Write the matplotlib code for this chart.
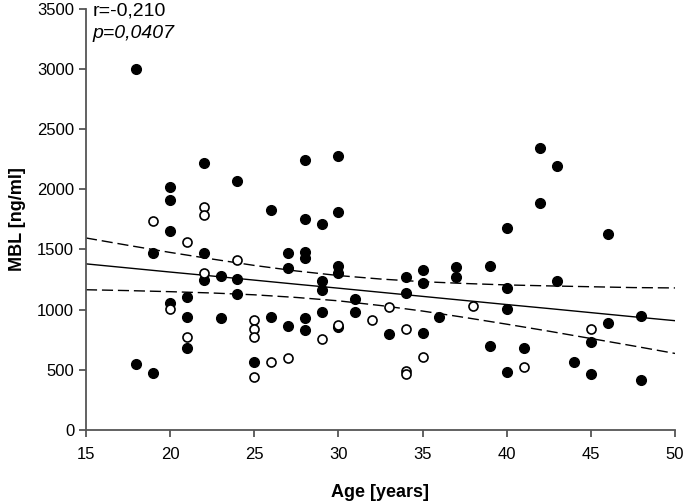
import matplotlib
matplotlib.use("Agg")
import matplotlib.pyplot as plt

plt.rcParams['font.family'] = ['Liberation Sans', 'DejaVu Sans']

# filled circles
age_filled = [18, 18, 19, 19, 20, 20, 20, 20, 21, 21, 21, 22, 22, 22, 23, 23,
              24, 24, 24, 25, 26, 26, 27, 27, 27, 28, 28, 28, 28, 28, 28,
              29, 29, 29, 29, 30, 30, 30, 30, 30, 31, 31, 33, 34, 34, 35, 35, 35,
              36, 37, 37, 39, 39, 40, 40, 40, 40, 41, 42, 42, 43, 43, 44, 45, 45,
              46, 46, 48, 48]
mbl_filled = [3000, 545, 1470, 476, 2020, 1907, 1652, 1054, 1104, 936, 683, 2220, 1470, 1245, 1281, 927,
              2065, 1256, 1127, 565, 1827, 941, 1467, 1348, 861, 2242, 1749, 1480, 1425, 932, 833,
              1708, 1240, 1162, 977, 2272, 1807, 1362, 1301, 858, 1085, 977, 794, 1268, 1140, 1328, 1220, 803,
              938, 1351, 1268, 1364, 700, 1680, 1176, 1005, 482, 683, 2344, 1882, 2192, 1240, 567, 731, 465,
              1630, 888, 949, 415]

# open circles
age_open = [19, 20, 21, 21, 22, 22, 22, 24, 25, 25, 25, 25, 26, 27, 29, 30, 32, 33,
            34, 34, 34, 35, 38, 41, 45]
mbl_open = [1733, 1002, 1558, 772, 1849, 1785, 1306, 1414, 913, 839, 772, 443, 562, 600, 758, 872, 911, 1021,
            839, 490, 462, 606, 1027, 523, 839]

# regression line and confidence band
fit_x = [15, 17.5, 20, 22.5, 25, 27.5, 30, 32.5, 35, 37.5, 40, 42.5, 45, 47.5, 50]
fit_y = [1380, 1346, 1312, 1279, 1245, 1211, 1178, 1144, 1110, 1076, 1042, 1009, 975, 941, 908]
ci_upper = [1595, 1534, 1475, 1420, 1367, 1321, 1283, 1254, 1232, 1217, 1205, 1197, 1190, 1183, 1180]
ci_lower = [1165, 1158, 1149, 1138, 1123, 1101, 1073, 1034, 988, 935, 879, 821, 760, 699, 636]

fig = plt.figure(figsize=(6.85, 5.01), dpi=100)
ax = fig.add_axes([0.1255, 0.1417, 0.8599, 0.8411])

ax.plot(fit_x, fit_y, color='black', lw=1.0, zorder=2)
ax.plot(fit_x, ci_upper, color='black', lw=1.0, dashes=(8, 3.5), zorder=2)
ax.plot(fit_x, ci_lower, color='black', lw=1.0, dashes=(8, 3.5), zorder=2)

ax.plot(age_filled, mbl_filled, 'o', ms=7, mfc='black', mec='black', mew=1.0, ls='none', zorder=3)
ax.plot(age_open, mbl_open, 'o', ms=6.5, mfc='white', mec='black', mew=1.2, ls='none', zorder=3)

ax.set_xlim(15, 50)
ax.set_ylim(0, 3500)
ax.set_xticks(range(15, 51, 5))
ax.set_yticks(range(0, 3501, 500))

for s in ['top', 'right']:
    ax.spines[s].set_visible(False)
for s in ['left', 'bottom']:
    ax.spines[s].set_color('#555555')
    ax.spines[s].set_linewidth(1.3)
ax.tick_params(direction='out', length=5, width=1.3, color='#555555',
               labelsize=12)
ax.tick_params(axis='x', pad=7)

ax.set_xlabel('Age [years]', fontsize=13, fontweight='bold', labelpad=16)
ax.set_ylabel('MBL [ng/ml]', fontsize=13, fontweight='bold', labelpad=8)

ax.text(0.011, 1.014, 'r=-0,210', transform=ax.transAxes, fontsize=14,
        va='top', ha='left')
ax.text(0.011, 0.962, 'p=0,0407', transform=ax.transAxes, fontsize=14,
        va='top', ha='left', style='italic')

fig.savefig('out.png', dpi=100)
